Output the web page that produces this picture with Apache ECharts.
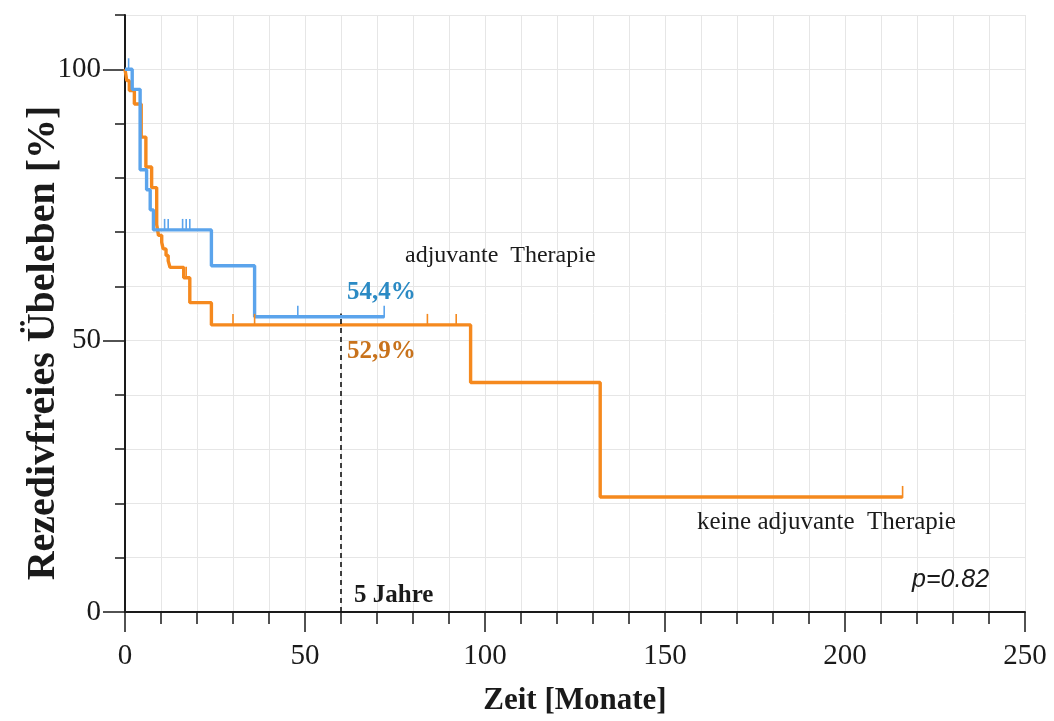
<!DOCTYPE html>
<html>
<head>
<meta charset="utf-8">
<title>Rezidivfreies Überleben</title>
<script src="https://cdn.jsdelivr.net/npm/echarts@6/dist/echarts.min.js"></script>
<style>
  html, body { margin: 0; padding: 0; background: #ffffff; }
  #chart { width: 1054px; height: 721px; }
</style>
</head>
<body>
<div id="chart"></div>
<script>
// Kaplan-Meier: adjuvante Therapie (blue)
const blueTimes = [0, 2, 4.2, 6, 7, 7.9, 24, 36, 72];
const blueSurv = [100, 96.3, 81.5, 77.8, 74.1, 70.4, 63.8, 54.4, 54.4];
const blueCensored = [1, 11, 12, 16, 17, 18, 48, 72];

// Kaplan-Meier: keine adjuvante Therapie (orange)
const orangeTimes = [0, 0.5, 1.2, 2.6, 4.5, 5.8, 7.4, 8.8, 9.3, 10.2, 10.6, 11.4, 12, 12.5, 16.3, 18, 24, 96, 132, 216];
const orangeSurv = [100, 97.9, 96.1, 93.6, 87.5, 82.0, 78.2, 71.4, 69.4, 68.1, 66.9, 65.7, 64.7, 63.5, 61.6, 57.0, 52.9, 42.3, 21.2, 21.2];
const orangeCensored = [17, 30, 36, 84, 92, 216];

// Axis ticks
const xMajorTicks = [0, 50, 100, 150, 200, 250];
const yMajorTicks = [0, 50, 100];
const fiveYears = 60;

const BLUE = '#5ba4ec';
const ORANGE = '#f5891e';
const SERIF = '"Liberation Serif", "Times New Roman", serif';
const SANS = '"Liberation Sans", Arial, sans-serif';

function pairs(times, surv) {
  return times.map((t, i) => [t, surv[i]]);
}
// survival value of a step curve at time t
function survAt(times, surv, t) {
  let v = surv[0];
  for (let i = 0; i < times.length; i++) {
    if (times[i] <= t) v = surv[i];
  }
  return v;
}
function censorPoints(times, surv, cens) {
  return cens.map(t => [t, survAt(times, surv, t)]);
}
function censorSeries(data, color) {
  return {
    type: 'custom',
    xAxisIndex: 0, yAxisIndex: 0,
    data: data,
    z: 4,
    renderItem: function (params, api) {
      const p = api.coord([api.value(0), api.value(1)]);
      return {
        type: 'line',
        shape: { x1: p[0], y1: p[1] + 1, x2: p[0], y2: p[1] - 11 },
        style: { stroke: color, lineWidth: 1.6 }
      };
    }
  };
}
function label(text, x, y, size, opts) {
  opts = opts || {};
  return {
    type: 'text', x: x, y: y, rotation: opts.rotation || 0, z: 10,
    style: {
      text: text,
      fill: opts.color || '#1a1a1a',
      fontFamily: opts.family || SERIF,
      fontSize: size,
      fontWeight: opts.bold ? 'bold' : 'normal',
      fontStyle: opts.italic ? 'italic' : 'normal',
      align: opts.align || 'left',
      verticalAlign: 'middle'
    }
  };
}
const pct = v => v.toFixed(1).replace('.', ',') + '%';
const blueAt5 = survAt(blueTimes, blueSurv, fiveYears);
const orangeAt5 = survAt(orangeTimes, orangeSurv, fiveYears);

const chart = echarts.init(document.getElementById('chart'), null, { renderer: 'canvas' });

const option = {
  animation: false,
  backgroundColor: '#ffffff',
  grid: { left: 125, right: 29, top: 15, bottom: 106, containLabel: false },
  xAxis: [
    {
      type: 'value', min: 0, max: 250, interval: 10, position: 'bottom',
      name: 'Zeit [Monate]', nameLocation: 'middle', nameGap: 73,
      nameTextStyle: { fontFamily: SERIF, fontWeight: 'bold', fontSize: 31, color: '#1a1a1a' },
      axisLine: { show: true, onZero: false, lineStyle: { color: '#1a1a1a', width: 2 } },
      axisTick: { show: true, length: 12, lineStyle: { color: '#1a1a1a', width: 1.5 } },
      axisLabel: {
        customValues: xMajorTicks, margin: 30,
        fontFamily: SERIF, fontSize: 29, color: '#1a1a1a'
      },
      splitLine: { show: true, lineStyle: { color: '#e6e6e6', width: 1 } }
    },
    {
      type: 'value', min: 0, max: 250, position: 'bottom', offset: 0,
      axisLine: { show: false },
      axisTick: { show: true, customValues: xMajorTicks, length: 20, lineStyle: { color: '#1a1a1a', width: 1.5 } },
      axisLabel: { show: false },
      splitLine: { show: false }
    }
  ],
  yAxis: [
    {
      type: 'value', min: 0, max: 110, interval: 10, position: 'left',
      axisLine: { show: true, onZero: false, lineStyle: { color: '#1a1a1a', width: 2 } },
      axisTick: { show: true, length: 10, lineStyle: { color: '#1a1a1a', width: 1.5 } },
      axisLabel: {
        customValues: yMajorTicks, margin: 24,
        fontFamily: SERIF, fontSize: 29, color: '#1a1a1a'
      },
      splitLine: { show: true, lineStyle: { color: '#e6e6e6', width: 1 } }
    },
    {
      type: 'value', min: 0, max: 110, position: 'left', offset: 0,
      axisLine: { show: false },
      axisTick: { show: true, customValues: yMajorTicks, length: 22, lineStyle: { color: '#1a1a1a', width: 1.5 } },
      axisLabel: { show: false },
      splitLine: { show: false }
    }
  ],
  series: [
    {
      name: 'keine adjuvante Therapie',
      type: 'line', step: 'end', xAxisIndex: 0, yAxisIndex: 0,
      data: pairs(orangeTimes, orangeSurv),
      showSymbol: false, symbol: 'none', z: 2,
      lineStyle: { color: ORANGE, width: 3.4 }
    },
    censorSeries(censorPoints(orangeTimes, orangeSurv, orangeCensored), ORANGE),
    {
      name: 'adjuvante Therapie',
      type: 'line', step: 'end', xAxisIndex: 0, yAxisIndex: 0,
      data: pairs(blueTimes, blueSurv),
      showSymbol: false, symbol: 'none', z: 3,
      lineStyle: { color: BLUE, width: 3.4 }
    },
    censorSeries(censorPoints(blueTimes, blueSurv, blueCensored), BLUE),
    {
      name: '5 Jahre',
      type: 'line', xAxisIndex: 0, yAxisIndex: 0,
      data: [[fiveYears, 0], [fiveYears, Math.max(blueAt5, orangeAt5) + 0.6]],
      showSymbol: false, symbol: 'none', z: 5,
      lineStyle: { color: '#111111', width: 1.6, type: [5, 4] }
    }
  ],
  graphic: [
    label('Rezedivfreies Übeleben [%]', 44, 343, 40, { bold: true, align: 'center', rotation: Math.PI / 2 }),
    label('adjuvante  Therapie', 405, 256, 24),
    label(pct(blueAt5), 347, 293, 25, { bold: true, color: '#2b8ac4' }),
    label(pct(orangeAt5), 347, 352, 25, { bold: true, color: '#c8721b' }),
    label('keine adjuvante  Therapie', 697, 522, 25),
    label('5 Jahre', 354, 596, 25, { bold: true }),
    label('p=0.82', 912, 580, 25, { italic: true, family: SANS })
  ]
};

chart.setOption(option);
</script>
</body>
</html>
